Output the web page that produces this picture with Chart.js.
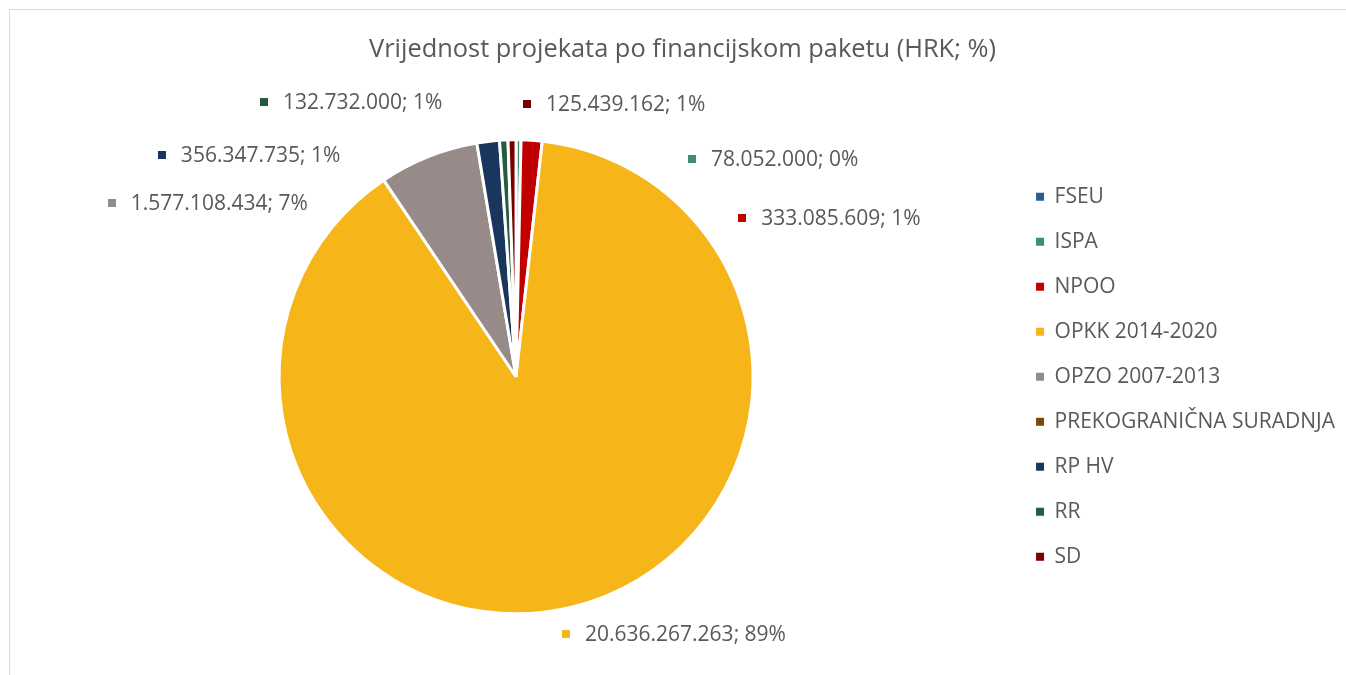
<!DOCTYPE html>
<html>
<head>
<meta charset="utf-8">
<script src="https://cdn.jsdelivr.net/npm/chart.js@4"></script>
<style>
  html, body { margin: 0; padding: 0; background: #fff; overflow: hidden; }
  #wrap {
    position: absolute; left: 9px; top: 9px;
    width: 1337px; height: 665px;
    border-left: 1px solid #d9d9d9; border-top: 1px solid #d9d9d9;
  }
</style>
</head>
<body>
<div id="wrap"><canvas id="myChart"></canvas></div>
<script>
// podaci
let labels = ['FSEU', 'ISPA', 'NPOO', 'OPKK 2014-2020', 'OPZO 2007-2013',
  'PREKOGRANIČNA SURADNJA', 'RP HV', 'RR', 'SD'];
let values = [0, 78052000, 333085609, 20636267263, 1577108434, 0, 356347735, 132732000, 125439162];
let percents = [null, 0, 1, 89, 7, null, 1, 1, 1];
let colors = ['#2f5b9a', '#3e9068', '#c00000', '#f6b519', '#978b89',
  '#7b4a06', '#1b365d', '#255c3f', '#7a0000'];

// polozaj oznaka: [kut od vrha u stupnjevima, faktor radijusa]
let labelPlace = [null, [39, 1.18], [55, 1.165], [169, 1.105], [-66.7, 1.857],
  null, [-57.9, 1.764], [-42.5, 1.574], [2.3, 1.152]];

function fmt(n){
  return String(n).replace(/\B(?=(\d{3})+(?!\d))/g, '.');
}

/* oznake podataka kao u Excelu */
let dataLabels = {
  id: 'dataLabels',
  afterDatasetsDraw(chart){
    let ctx = chart.ctx;
    let meta = chart.getDatasetMeta(0);
    ctx.save();
    ctx.font = '21px "Open Sans"';
    ctx.textBaseline = 'middle';
    meta.data.forEach(function(arc, i){
      if(!labelPlace[i] || !values[i]) return;
      let a = labelPlace[i][0] * Math.PI / 180;
      let r = arc.outerRadius * labelPlace[i][1];
      let x = arc.x + Math.sin(a) * r;
      let y = arc.y - Math.cos(a) * r;
      ctx.fillStyle = colors[i];
      ctx.fillRect(Math.round(x - 4), Math.round(y - 4), 8, 8);
      ctx.fillStyle = '#595959';
      ctx.textAlign = 'left';
      ctx.fillText(fmt(values[i]) + '; ' + percents[i] + '%', x + 19, y + 1);
    });
    ctx.restore();
  }
};

let config = {
  type: 'pie',
  data: {
    labels: labels,
    datasets: [{
      data: values,
      backgroundColor: colors,
      borderColor: '#ffffff',
      borderWidth: 3
    }]
  },
  options: {
    responsive: true,
    maintainAspectRatio: false,
    animation: false,
    radius: 237,
    layout: { padding: { left: 10, right: 2 } },
    plugins: {
      title: {
        display: true,
        text: 'Vrijednost projekata po financijskom paketu (HRK; %)',
        color: '#595959',
        font: { family: 'Open Sans', size: 25.4, weight: 'normal' },
        padding: { top: 25, bottom: 13 }
      },
      legend: {
        position: 'right',
        fullSize: false,
        labels: {
          boxWidth: 8,
          boxHeight: 8,
          padding: 24,
          color: '#595959',
          font: { family: 'Open Sans', size: 21 },
          generateLabels: function(chart){
            let items = Chart.overrides.pie.plugins.legend.labels.generateLabels(chart);
            items.forEach(function(it){ it.lineWidth = 0; it.hidden = false; });
            return items;
          }
        }
      },
      tooltip: { enabled: false }
    }
  },
  plugins: [dataLabels]
};

let myChart = new Chart(document.getElementById('myChart'), config);
</script>
</body>
</html>
